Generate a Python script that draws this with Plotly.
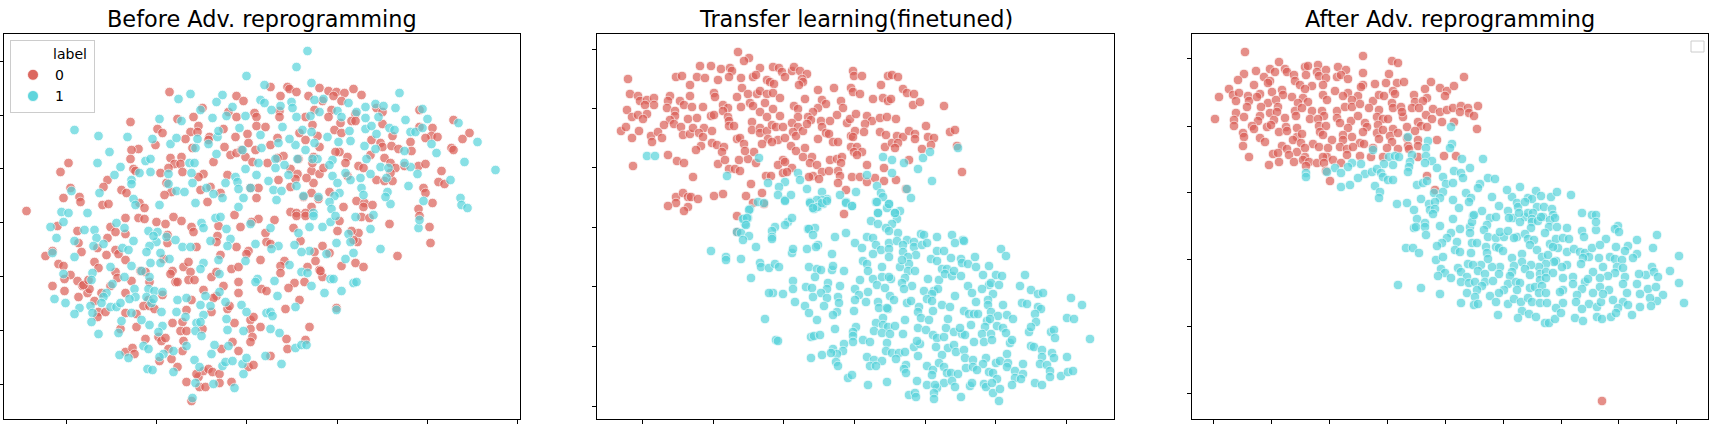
import plotly.graph_objects as go

# Values are read off the picture; axes carry no tick labels, so units are arbitrary.
before_0 = [(166,327),(127,297),(174,300),(190,302),(199,311),(225,307),(233,323),(240,318),(251,306),(253,302),(233,302),
(154,290),(159,286),(195,293),(187,287),(194,287),(206,282),(205,279),(182,280),(220,290),(253,293),(244,285),(262,292),(232,282),(152,274),(135,270),(128,269),(127,260),(65,256),(57,247),(189,271),(221,272),(227,264),(233,266),(238,269),(245,276),(252,269),(242,262),(249,257),(264,256),(167,261),(178,262),(171,255),(177,255),(165,251),(210,257),(130,250),(132,248),(157,246),(179,247),(200,245),(195,242),(224,244),(104,239),(100,232),(118,229),(123,226),(163,236),(168,227),(161,224),(197,229),(207,232),(217,226),(204,217),(247,231),(255,231),(253,221),(67,231),(60,221),(76,222),(77,217),(99,214),(105,215),(136,216),(141,211),(23,208),
(267,332),(284,332),(286,330),(293,327),(316,331),(325,328),(333,327),(330,323),(341,326),(350,330),(358,324),(277,323),(305,323),(319,318),(338,318),(311,309),(328,309),(325,302),(276,308),(276,302),(302,302),(309,294),(352,305),(348,298),(352,298),(337,296),(331,289),(338,286),(373,311),(379,307),(416,309),(379,295),(389,283),(368,279),(377,276),(379,272),(388,273),(395,270),(407,277),(408,268),(416,292),(429,291),(428,283),(434,282),(422,281),(450,299),(466,286),(459,280),(448,271),(450,269),(302,279),(296,286),(274,281),(267,274),(287,250),(294,245),(308,248),(316,245),(310,236),(303,241),(292,240),(275,239),(287,232),(320,251),(336,267),(332,267),(344,262),(342,256),(355,253),(360,251),(367,264),(381,261),(387,256),(392,251),(401,253),(415,253),(422,255),(373,239),(381,238),(389,238),(387,246),(344,243),(438,248),(435,237),(441,235),(420,231),(422,226),(429,216),(415,210),(326,227),(308,226),(300,222),(315,220),(308,212),(340,212),(353,218),(361,216),(360,212),(369,214),(287,207),(293,206),(302,206),(316,272),(310,262),(309,256),(280,263),(274,261),(314,283),(295,260),
(122,201),(107,192),(112,187),(122,185),(74,188),(54,193),(75,176),(78,167),(42,163),(49,168),(104,181),(94,171),(112,169),(115,165),(103,164),(122,159),(91,157),(95,151),(55,155),(60,153),(112,147),(114,141),(128,138),(67,144),(61,140),(74,138),(79,133),(49,133),(61,128),(75,122),(84,126),(86,130),(80,134),(85,139),(107,133),(98,126),(91,118),(95,107),(94,102),(102,107),(122,126),(122,106),(135,201),(141,200),(153,197),(170,202),(178,198),(162,195),(188,192),(190,187),(215,193),(214,183),(213,177),(233,172),(245,168),(243,165),(237,192),(231,204),(255,200),(248,197),(262,186),(263,177),(257,159),(193,172),(164,184),(164,176),(160,160),(137,148),(142,147),(146,137),(169,148),(167,145),(180,152),(185,157),(187,147),(172,137),(174,137),(185,139),(191,139),(208,142),(213,147),(217,164),(228,150),(235,152),(235,137),(235,126),(220,133),(200,129),(213,123),(210,121),(258,130),(263,128),(188,119),(159,124),(145,119),(140,113),(146,113),(151,110),(183,109),(224,110),(226,113),(208,107),(133,105),(133,92),(169,96),(179,97),(177,88),(183,88),(199,90),(180,78),(179,68),(165,70),(155,82),(158,78),(162,81),(142,80),(117,90),(122,67),(129,71),(131,65),(156,58),(168,60),(174,52),(183,37),(195,42),(200,48),(205,50),(209,47),(216,45),(196,32),(202,32),(216,36),(228,37),(188,18),(229,77),(218,70),(235,68),(231,96),(247,99),(247,90),(249,82),(247,77),(257,92),(250,102),(245,52),(250,54),(193,45),
(271,199),(293,203),(302,203),(336,198),(334,188),(355,186),(348,188),(358,202),(366,201),(386,195),(416,203),(426,192),(427,176),(394,163),(290,191),(297,178),(319,173),(311,167),(326,166),(354,177),(350,179),(338,153),(352,156),(360,152),(312,158),(304,152),(281,158),(277,153),(277,146),(316,149),(319,142),(317,148),(301,137),(291,136),(285,131),(296,119),(282,110),(306,92),(283,80),(302,79),(284,70),(333,111),(267,63),(267,175)]

before_1 = [(243,343),(261,334),(175,320),(187,325),(219,324),(213,317),(257,319),(261,316),(229,312),(223,303),(242,303),(209,301),(197,309),(178,298),(156,300),(71,289),(95,283),(124,282),(149,280),(167,275),(173,281),(194,280),(205,275),(214,282),(215,288),(236,291),(257,284),(258,271),(239,269),(213,265),(192,271),(106,267),(94,256),(117,252),(111,244),(142,258),(147,260),(136,246),(147,247),(186,256),(191,256),(188,246),(128,239),(128,235),(165,245),(165,235),(189,236),(203,231),(222,236),(232,242),(234,237),(242,250),(255,256),(253,244),(247,231),(235,230),(68,228),(96,226),(130,220),(132,214),(156,214),(173,228),(181,227),(192,216),(210,225),(219,221),(240,221),(235,212),(265,238),(58,207),(65,206),(84,206),
(304,368),(293,352),(308,336),(396,326),(311,319),(320,320),(288,317),(345,316),(289,311),(277,313),(268,309),(316,307),(293,302),(307,303),(334,308),(338,302),(353,307),(362,312),(372,315),(380,313),(392,311),(375,302),(362,301),(362,290),(368,293),(373,285),(386,291),(391,289),(402,299),(419,310),(424,300),(407,287),(412,287),(419,291),(455,296),(279,292),(299,289),(308,287),(324,282),(346,288),(347,278),(361,273),(335,277),(311,276),(292,274),(286,280),(275,276),(302,269),(372,270),(401,268),(428,275),(433,266),(474,277),(461,257),(492,249),(447,239),(414,245),(407,252),(401,256),(377,252),(385,251),(363,260),(329,259),(326,254),(314,260),(309,260),(294,260),(281,254),(272,260),(272,251),(285,244),(293,233),(329,243),(334,236),(347,239),(342,246),(357,241),(367,245),(383,241),(358,231),(360,224),(336,226),(331,223),(300,223),(315,222),(326,217),(328,210),(387,215),(384,227),(382,222),(405,233),(420,218),(457,221),(458,214),(464,211),(310,206),(270,229),(278,228),(273,219),
(47,192),(53,181),(49,166),(60,197),(81,189),(91,189),(93,181),(90,173),(100,175),(113,196),(121,191),(130,178),(119,171),(125,169),(71,178),(71,162),(107,152),(121,142),(128,153),(60,145),(89,146),(88,139),(109,135),(103,126),(100,122),(51,120),(62,116),(76,111),(71,105),(87,113),(98,116),(107,112),(113,112),(117,116),(89,106),(88,97),(95,85),(118,98),(115,86),(128,106),(138,148),(131,130),(132,122),(126,120),(145,130),(143,122),(148,116),(151,128),(159,127),(150,120),(146,142),(153,177),(146,173),(143,167),(157,166),(147,156),(157,156),(166,160),(145,188),(154,187),(150,183),(163,182),(172,179),(179,172),(187,172),(198,196),(200,191),(212,201),(217,202),(223,190),(207,178),(227,180),(224,173),(252,175),(247,195),(242,158),(215,159),(200,156),(197,150),(216,145),(254,140),(252,137),(216,127),(202,123),(174,119),(183,121),(197,114),(207,113),(222,117),(238,114),(243,107),(263,106),(267,107),(158,107),(173,107),(182,102),(200,104),(138,99),(146,94),(159,93),(193,96),(197,97),(223,100),(224,89),(240,88),(192,88),(198,83),(155,87),(211,74),(208,65),(225,73),(183,73),(170,68),(160,65),(116,64),(125,61),(140,73),(145,70),(156,62),(191,59),(144,50),(149,49),(170,47),(196,52),(219,53),(222,57),(229,58),(239,55),(240,45),(243,61),(210,35),(192,36),(231,31),(189,21),(262,63),
(306,192),(319,192),(327,197),(332,203),(352,202),(367,190),(345,185),(347,177),(333,176),(377,170),(350,166),(342,160),(415,191),(416,199),(295,186),(291,174),(275,173),(268,170),(306,168),(298,167),(323,165),(286,154),(298,147),(304,146),(271,138),(308,133),(327,140),(330,140),(350,136),(353,137),(321,126),(338,128),(274,123),(292,112),(269,103),(333,109),(276,86),(292,71),(298,74),(303,74),(278,55),(267,90),(310,203),(370,204),(267,191)]

transfer_0 = [(141,367),(152,361),(147,358),(103,353),(114,353),(124,350),(133,351),(135,348),(163,351),(176,352),(182,351),(185,347),(195,348),(197,352),(203,348),(210,345),(205,340),(206,337),(202,334),(31,340),(79,342),(85,343),(100,342),(108,341),(121,339),(132,342),(144,341),(156,342),(159,344),(170,339),(173,337),(177,335),(188,342),(93,334),(93,323),(256,348),(257,343),(265,343),(291,343),(295,344),(301,342),(284,334),(221,329),(237,331),(254,331),(256,327),(263,325),(306,330),(310,326),(317,325),(33,325),(41,323),(43,318),(50,319),(57,321),(57,314),(48,314),(73,323),(71,318),(70,311),(83,318),(87,314),(95,312),(106,312),(78,308),(117,326),(118,322),(140,322),(145,331),(151,325),(160,325),(163,328),(170,325),(176,326),(183,321),(153,316),(156,313),(144,312),(126,314),(131,311),(126,308),(168,316),(176,310),(163,307),(170,302),(197,313),(201,310),(208,320),(225,319),(229,315),(221,311),(216,307),(244,318),(246,311),(240,304),(276,320),(286,321),(291,318),(294,320),(316,314),(323,317),(347,313),(30,309),(35,302),(41,304),(50,305),(46,300),(78,303),(73,299),(91,300),(100,301),(114,303),(117,304),(131,302),(132,298),(132,293),(137,293),(155,297),(183,303),(201,302),(211,302),(214,299),(224,298),(233,298),(250,296),(253,300),(259,305),(270,303),(275,298),(283,301),(290,302),(299,300),(268,295),(329,293),(24,288),(29,292),(42,288),(35,281),(54,283),(61,287),(65,281),(55,277),(67,294),(77,295),(84,292),(86,284),(93,285),(96,291),(107,291),(102,286),(106,282),(115,288),(115,276),(120,274),(127,272),(104,273),(99,269),(125,267),(140,280),(143,281),(147,275),(155,289),(163,291),(163,286),(170,288),(175,294),(179,292),(186,292),(195,296),(201,292),(171,280),(181,279),(188,281),(165,275),(175,277),(196,287),(199,283),(206,288),(210,295),(225,292),(229,286),(232,285),(221,280),(236,277),(241,277),(254,283),(258,288),(256,282),(267,287),(283,287),(289,284),(254,272),(260,272),(257,267),(265,267),(260,264),(288,272),(295,276),(300,283),(306,282),(301,276),(298,271),(312,288),(318,285),(318,280),(331,282),(337,281),(334,274),(325,270),(353,287),(358,289),(360,273),(365,247),(312,259),(287,251),(270,254),
(71,264),(80,258),(87,256),(36,253),(96,242),(121,255),(128,259),(132,250),(138,250),(143,248),(142,259),(151,260),(157,267),(148,268),(159,256),(186,259),(181,254),(188,257),(186,246),(195,251),(190,247),(194,273),(199,268),(208,271),(206,262),(215,262),(213,256),(220,254),(225,247),(233,259),(240,260),(245,262),(244,256),(241,248),(243,243),(232,248),(216,243),(212,242),(222,240),(169,243),(174,243),(241,236),(255,242),(263,242),(270,237),(278,241),(287,238),(299,239),(309,230),(154,235),(165,226),(126,225),(117,223),(79,222),(86,226),(91,222),(94,222),(101,220),(79,216),(71,213),(91,212),(87,208),(149,223),(156,216),(167,215),(249,229),(247,205),(140,203),(140,187)]

transfer_1 = [(50,263),(58,263),(130,243),(162,261),(201,246),(203,239),(171,236),(188,237),(182,232),(210,230),(181,224),(188,219),(194,224),(225,227),(243,224),(259,227),(270,244),(280,233),(284,226),(286,222),(286,262),(295,259),(307,256),(321,250),(326,261),(333,267),(361,271),(295,246),(335,238),(310,230),(314,221),(279,217),(292,215),(290,211),(255,213),(249,217),(213,217),(230,220),(225,219),(220,219),(226,215),(221,212),(217,210),(153,210),(161,217),(167,216),(151,201),(147,200),(148,195),(191,197),(195,201),(188,194),(178,192),(175,188),(140,187),(144,186),(152,183),(175,182),(211,190),(218,191),(249,186),(238,182),(281,206),(303,208),(298,206),(300,200),(274,198),(281,195),(295,195),(289,191),(301,186),(270,182),(324,185),(340,182),(355,184),(366,179),(310,179),
(188,218),(213,216),(220,212),(225,216),(230,218),(216,211),(249,216),(255,213),(280,217),(292,215),(281,206),(298,206),(292,188),(175,180),(152,209),(146,200),(150,201),(149,194),(146,179),(159,172),(114,168),(129,162),(129,159),(144,160),(163,156),(164,152),(172,151),(178,155),(182,152),(154,141),(195,166),(196,170),(210,170),(212,190),(216,184),(221,174),(219,172),(235,165),(258,176),(265,171),(276,181),(279,174),(284,169),(276,165),(292,176),(292,170),(292,162),(300,178),(317,177),(306,174),(317,172),(306,167),(319,164),(311,162),(327,184),(358,176),(367,178),(325,174),(330,176),(340,168),(347,168),(334,160),(340,158),(354,161),(364,160),(365,156),(371,155),(378,162),(379,152),(392,153),(404,170),(409,163),(266,158),(270,155),(285,152),(271,148),(303,152),(312,155),(305,159),(311,148),(318,148),(212,152),(220,150),(224,149),(235,149),(236,153),(247,148),(218,142),(231,136),(243,133),(263,139),(276,140),(285,142),(294,140),(292,142),(308,141),(305,136),(315,133),(280,134),(288,131),(307,130),(331,140),(342,139),(345,150),(350,150),(348,145),(355,143),(357,148),(364,143),(386,144),(399,144),(405,143),(428,144),(423,133),(434,129),(441,125),(446,126),(392,134),(394,136),(402,134),(385,130),(371,133),(375,126),(396,125),(337,128),(341,130),(327,128),(335,125),(330,120),(335,118),(358,123),(379,117),(391,119),(391,114),(406,114),(425,116),(430,115),(441,112),(444,110),(474,121),(485,114),(196,138),(196,130),(176,126),(172,126),(186,125),(198,117),(209,132),(215,131),(230,130),(224,126),(216,122),(230,121),(241,122),(242,116),(227,113),(208,113),(212,106),(240,107),(236,104),(258,130),(271,127),(262,124),(258,119),(269,117),(293,123),(297,119),(281,117),(282,111),(291,110),(290,111),(310,116),(314,118),(257,108),(322,112),(321,107),(324,101),(332,99),(345,114),(336,108),(353,112),(367,108),(372,105),(377,105),(381,105),(394,107),(401,103),(410,104),(416,100),(438,105),(439,97),(470,101),(477,100),(168,100),(220,99),(238,90),(286,101),(308,99),(279,96),(286,94),(291,92),(298,93),(277,88),(285,86),(293,85),(306,85),(259,92),(256,87),(256,83),(214,82),(217,83),(223,84),(321,91),(329,89),(336,84),(340,81),(347,82),(349,91),(351,100),(357,87),(365,85),(368,84),(363,91),(374,94),(390,98),(393,100),(388,92),(385,85),(394,85),(400,93),(406,91),(409,86),(432,87),(434,92),(454,87),(457,89),(458,81),(493,80),(179,79),(181,78),(266,79),(273,77),(256,77),(247,75),(246,68),(236,70),(240,65),(225,64),(234,66),(214,61),(239,57),(241,53),(290,76),(289,68),(295,66),(302,66),(308,67),(317,72),(323,75),(320,78),(339,72),(351,71),(357,74),(359,67),(367,69),(377,77),(387,77),(395,79),(413,76),(415,79),(434,73),(437,72),(445,69),(455,66),(457,61),(445,62),(470,62),(410,65),(270,62),(277,59),(285,58),(273,53),(279,53),(299,60),(321,63),(345,64),(368,61),(376,59),(389,61),(386,55),(399,56),(403,58),(411,56),(426,55),(443,55),(450,54),(309,54),(307,50),(309,46),(330,53),(336,49),(335,44),(342,56),(347,52),(350,46),(354,46),(361,45),(369,51),(376,52),(380,49),(392,47),(396,46),(400,40),(410,52),(418,48),(426,45),(418,41),(424,40),(453,48),(453,42),(464,43),(471,47),(476,48),(251,41),(255,44),(271,34),(290,37),(320,38),(330,34),(347,36),(355,38),(358,32),(340,31),(338,34),(337,26),(373,33),(375,36),(387,35),(389,32),(395,36),(396,26),(403,30),(415,34),(438,36),(445,34),(312,24),(318,26),(319,22),(337,20),(364,22),(402,18)]

after_0 = [(53,367),(171,363),(200,358),(206,356),(87,357),(113,352),(116,353),(126,354),(146,352),(64,348),(78,350),(83,347),(93,350),(95,347),(102,344),(114,344),(125,347),(134,349),(127,343),(154,349),(171,346),(197,345),(272,342),(52,345),(46,339),(72,342),(78,338),(103,338),(134,341),(145,342),(149,344),(156,340),(62,334),(76,336),(108,334),(120,333),(131,334),(171,334),(183,335),(194,336),(205,336),(212,337),(239,337),(37,330),(27,322),(41,324),(47,326),(56,323),(68,325),(80,327),(90,329),(91,324),(100,322),(113,330),(111,321),(131,324),(143,328),(156,326),(166,323),(169,332),(201,328),(203,325),(233,330),(248,331),(255,328),(262,333),(253,323),(222,324),(44,318),(57,318),(65,322),(76,316),(84,319),(106,316),(116,317),(135,319),(151,323),(160,319),(181,318),(187,324),(192,323),(200,316),(223,317),(235,321),(231,318),(55,312),(69,312),(86,312),(103,308),(110,311),(120,308),(130,308),(145,308),(153,312),(160,312),(168,315),(177,311),(187,309),(201,311),(209,312),(220,311),(227,311),(241,310),(248,307),(255,309),(261,311),(269,313),(276,311),(286,313),(44,306),(52,302),(68,303),(78,306),(85,307),(104,303),(132,303),(118,300),(23,300),(42,299),(66,298),(82,299),(93,301),(126,300),(145,301),(159,298),(166,303),(185,302),(191,300),(196,300),(211,302),(210,307),(234,304),(240,300),(268,307),(277,306),(282,303),(42,293),(60,293),(62,290),(75,292),(79,294),(94,292),(105,291),(127,293),(134,293),(148,296),(156,291),(173,296),(175,292),(186,294),(201,290),(215,292),(226,297),(229,293),(235,292),(250,297),(262,297),(285,290),(51,286),(52,282),(68,281),(87,287),(95,288),(105,282),(110,285),(128,287),(131,284),(151,284),(160,282),(171,287),(185,286),(191,289),(198,283),(206,286),(223,288),(226,279),(245,279),(73,277),(90,273),(101,279),(109,276),(121,275),(127,272),(140,279),(151,279),(168,276),(172,275),(187,280),(200,277),(215,281),(216,273),(226,273),(51,273),(95,270),(105,267),(113,271),(136,271),(148,272),(155,270),(161,272),(181,271),(195,271),(206,270),(217,270),(81,265),(86,266),(97,264),(113,262),(135,262),(155,264),(57,262),(168,263),(179,262),(191,262),(226,262),(252,263),(264,263),(77,254),(87,257),(102,257),(111,259),(117,257),(125,256),(131,262),(132,256),(141,259),(149,256),(114,253),(134,248),(235,243),(138,238),(243,229),(410,18)]

after_1 = [(259,292),(216,282),(236,278),(234,271),(260,275),(258,271),(181,269),(270,260),(291,260),(197,262),(203,263),(207,262),(220,264),(234,263),(201,254),(192,255),(218,257),(240,258),(233,256),(245,251),(278,251),(217,252),(216,247),(262,248),(269,246),(271,241),(251,242),(169,255),(160,256),(156,252),(143,251),(149,246),(135,247),(114,246),(114,242),(173,245),(166,241),(180,247),(185,250),(189,246),(191,242),(196,239),(201,239),(149,232),(158,234),(183,233),(225,234),(231,236),(235,238),(254,235),(261,236),(288,235),(296,241),(303,240),(286,231),(188,227),(187,221),(229,220),(242,226),(251,227),(248,221),(261,219),(274,226),(279,221),(277,217),(300,222),(328,232),(320,222),(325,216),(336,221),(205,215),(215,216),(237,215),(243,217),(267,211),(222,209),(238,209),(243,210),(241,205),(225,200),(261,200),(281,203),(290,208),(307,213),(316,208),(326,212),(298,201),(304,202),(333,202),(321,201),(336,206),(327,206),
(344,228),(349,223),(359,222),(365,227),(379,224),(340,220),(345,212),(352,212),(360,210),(341,206),(351,202),(361,204),(390,206),(400,204),(404,204),(340,200),(315,229),(333,217),
(222,191),(224,192),(233,196),(233,192),(234,184),(248,193),(268,190),(259,186),(255,181),(250,176),(245,173),(214,171),(221,171),(227,166),(265,177),(263,169),(268,167),(244,159),(251,162),(249,150),(253,146),(246,143),(206,134),(229,131),(248,125),
(278,192),(278,186),(280,197),(282,204),(295,194),(292,189),(296,182),(304,181),(312,182),(308,187),(316,188),(325,182),(317,201),(328,197),(340,197),(339,191),(346,198),(349,202),(358,199),(363,201),(357,192),(365,192),(375,191),(390,188),(392,182),(404,189),(404,197),(426,193),(423,190),(427,187),(465,184),(445,179),(414,180),(280,176),(279,166),(285,176),(294,172),(295,166),(304,172),(307,171),(311,168),(322,181),(333,185),(336,180),(342,179),(338,174),(353,186),(358,175),(364,180),(371,181),(377,180),(366,171),(361,172),(345,169),(330,165),(320,161),(350,162),(356,164),(364,158),(375,167),(382,170),(388,167),(393,166),(400,171),(408,174),(424,172),(436,173),(461,171),(433,168),(445,165),(441,161),(418,162),(423,160),(430,159),(407,161),(397,162),(391,161),(389,155),(375,154),(370,152),(362,157),(354,155),(347,152),(339,154),(330,157),(322,153),(333,150),(308,152),(300,152),(296,160),(289,154),(276,155),(281,154),(266,151),(269,147),(286,148),(293,145),(307,145),(320,147),(318,143),(338,144),(348,145),(354,147),(361,146),(348,139),(354,141),(371,141),(381,142),(401,147),(411,152),(425,152),(423,146),(431,151),(416,143),(408,141),(433,142),(454,144),(447,145),(460,152),(462,147),(466,142),(478,148),(259,141),(275,142),(269,137),(277,136),(283,137),(293,137),(301,138),(290,133),(285,129),(316,135),(324,137),(328,136),(312,129),(307,126),(298,123),(325,129),(338,131),(343,132),(350,133),(371,129),(381,135),(393,137),(396,140),(408,132),(417,129),(401,126),(390,130),(431,135),(435,126),(445,135),(456,130),(464,132),(471,124),(487,136),(487,163),(492,116),(448,125),(465,118),(458,121),(275,126),(283,122),(269,116),(282,114),(286,115),(304,117),(316,115),(322,120),(329,117),(336,121),(340,117),(347,126),(348,116),(354,126),(355,116),(368,127),(371,116),(385,124),(384,117),(397,115),(390,110),(405,112),(409,117),(411,125),(421,119),(431,117),(436,114),(448,112),(459,113),(426,111),(364,111),(306,104),(330,108),(337,105),(326,101),(344,102),(353,96),(357,96),(363,100),(369,106),(383,101),(391,98),(405,102),(410,100),(419,102),(424,106),(440,104)]

titles = ["Before Adv. reprogramming", "Transfer learning(finetuned)", "After Adv. reprogramming"]
legend_title = "label"
legend_labels = ["0", "1"]
RED, CYAN = "#db5f57", "#57d3db"

x_ticks = [[62.5,152.5,242.5,333.5,423.5,513.5],
           [45,116,186,257,328,398,469],
           [21,79,137,195,253,311,369,426,484]]
y_ticks = [[358,304,251,197,143,89,35],
           [370,311,252,192,133,73,13],
           [361,293,227,160,93,26]]

W, H = 1714, 427
panels = [(3.5, 520), (597, 1114), (1192, 1708)]
top, bottom = 34, 419
series = [(before_0, before_1), (transfer_0, transfer_1), (after_0, after_1)]

fig = go.Figure()
for i, ((l, r), (reds, cyans)) in enumerate(zip(panels, series)):
    n = "" if i == 0 else str(i + 1)
    for pts, col in ((reds, RED), (cyans, CYAN)):
        fig.add_trace(go.Scatter(
            x=[p[0] for p in pts], y=[p[1] for p in pts], mode="markers",
            xaxis="x" + n, yaxis="y" + n, showlegend=False,
            marker=dict(color=col, size=9.6, opacity=0.7, line=dict(color="white", width=0.8))))
    axis = dict(showgrid=False, zeroline=False, showline=True, mirror=True, linecolor="black",
                linewidth=1, ticks="outside", ticklen=4, tickwidth=1, tickcolor="black",
                showticklabels=False)
    fig.layout["xaxis" + n] = dict(axis, domain=[l / W, r / W], range=[0, r - l],
                                   tickvals=x_ticks[i], anchor="y" + n)
    fig.layout["yaxis" + n] = dict(axis, domain=[(H - bottom) / H, (H - top) / H],
                                   range=[0, bottom - top], tickvals=y_ticks[i], anchor="x" + n)
    fig.add_annotation(text=titles[i], xref="paper", yref="paper", x=(l + r) / 2 / W,
                       y=(H - 34) / H, xanchor="center", yanchor="bottom", showarrow=False,
                       font=dict(size=22.4, color="black"))

for lab, col in zip(legend_labels, (RED, CYAN)):
    fig.add_trace(go.Scatter(x=[None], y=[None], mode="markers", name=lab,
                             marker=dict(color=col, size=11, opacity=0.95, line=dict(color="white", width=0.8))))

# empty legend frame of the third panel
fig.add_shape(type="rect", xref="paper", yref="paper", x0=1691/W, x1=1704/W, y0=(H-52)/H, y1=(H-41)/H,
              line=dict(color="#cccccc", width=1), fillcolor="rgba(255,255,255,0.8)")

fig.update_layout(
    width=W, height=H, autosize=False, margin=dict(l=0, r=0, t=0, b=0),
    paper_bgcolor="white", plot_bgcolor="white",
    font=dict(family="DejaVu Sans", color="black", size=14),
    legend=dict(x=10/W, y=(H-40)/H, xanchor="left", yanchor="top", bgcolor="rgba(255,255,255,0.8)",
                bordercolor="#cccccc", borderwidth=1, font=dict(size=14),
                title=dict(text="\u00a0" * 9 + legend_title + "\u00a0", font=dict(size=14)),
                itemwidth=34, tracegroupgap=0),
)
fig.write_html("out.html", config={"displayModeBar": False},
               post_script="document.body.style.margin='0';document.documentElement.style.overflow='hidden';")
